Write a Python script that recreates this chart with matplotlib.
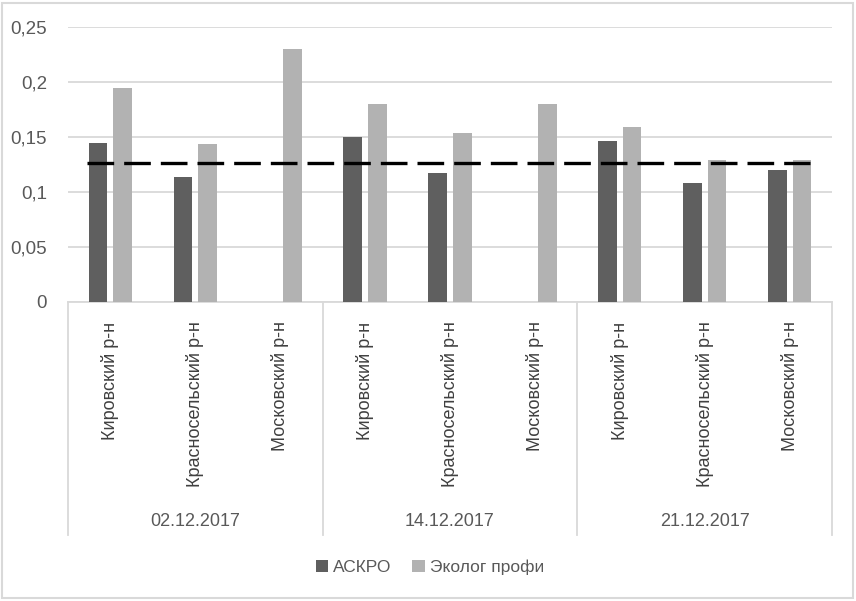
import matplotlib.pyplot as plt
from matplotlib.patches import Rectangle
from matplotlib.transforms import blended_transform_factory
import numpy as np

plt.rcParams['font.family'] = ['Liberation Sans Narrow', 'Liberation Sans', 'DejaVu Sans']

districts = ["Кировский р-н", "Красносельский р-н", "Московский р-н"]
dates = ["02.12.2017", "14.12.2017", "21.12.2017"]
askro = [0.145, 0.114, 0.0, 0.150, 0.117, 0.0, 0.146, 0.108, 0.120]
ecolog = [0.195, 0.144, 0.230, 0.180, 0.154, 0.180, 0.159, 0.129, 0.129]
limit = 0.126
yticks = [0, 0.05, 0.1, 0.15, 0.2, 0.25]
ytick_labels = ["0", "0,05", "0,1", "0,15", "0,2", "0,25"]

dark = "#5f5f5f"
light = "#b2b2b2"
grid = "#d9d9d9"
text_c = "#595959"

fig = plt.figure(figsize=(8.56, 6.01), dpi=100)
ax = fig.add_axes([68 / 856, 1 - 302 / 601, 764 / 856, 275 / 601])

x = np.arange(len(askro))
w = 0.22
ax.bar(x - 0.145, askro, w, color=dark, label="АСКРО", zorder=3)
ax.bar(x + 0.145, ecolog, w, color=light, label="Эколог профи", zorder=3)

ax.axhline(limit, xmin=0.025, xmax=0.971, color="black", lw=2.4,
           dashes=(8, 3), zorder=4)

ax.set_xlim(-0.5, len(askro) - 0.5)
ax.set_ylim(0, 0.25)
ax.set_yticks(yticks)
ax.set_yticklabels(ytick_labels, fontsize=13.5, color=text_c)
ax.yaxis.grid(True, color=grid, lw=1.3, zorder=0)
ax.tick_params(axis="y", length=0, pad=15)

ax.set_xticks(x)
ax.set_xticklabels(districts * len(dates), rotation=90, va="top",
                   family=["Liberation Sans", "DejaVu Sans"],
                   fontsize=13, color="#404040")
ax.tick_params(axis="x", length=0, pad=14)

for s in ["left", "right", "top"]:
    ax.spines[s].set_visible(False)
ax.spines["bottom"].set_color(grid)
ax.spines["bottom"].set_linewidth(1.3)

trans = blended_transform_factory(ax.transData, ax.transAxes)
for b in [-0.5, 2.5, 5.5, 8.5]:
    ax.plot([b, b], [0, -0.847], transform=trans, color=grid, lw=1.3,
            clip_on=False)
for i, d in enumerate(dates):
    ax.text(3 * i + 1, -0.80, d, transform=trans, ha="center", va="center",
            fontsize=13, color=text_c)

fig.legend(loc="center", bbox_to_anchor=(430 / 856, 1 - 567 / 601), ncol=2,
           frameon=False, fontsize=12.5, labelcolor=text_c, handlelength=0.7,
           handleheight=0.7, handletextpad=0.3, columnspacing=1.2)

fig.patches.append(Rectangle((2 / 856, 3 / 601), 851 / 856, 595 / 601,
                             transform=fig.transFigure, fill=False,
                             edgecolor=grid, lw=1.5))

fig.savefig("out.png", dpi=100)
